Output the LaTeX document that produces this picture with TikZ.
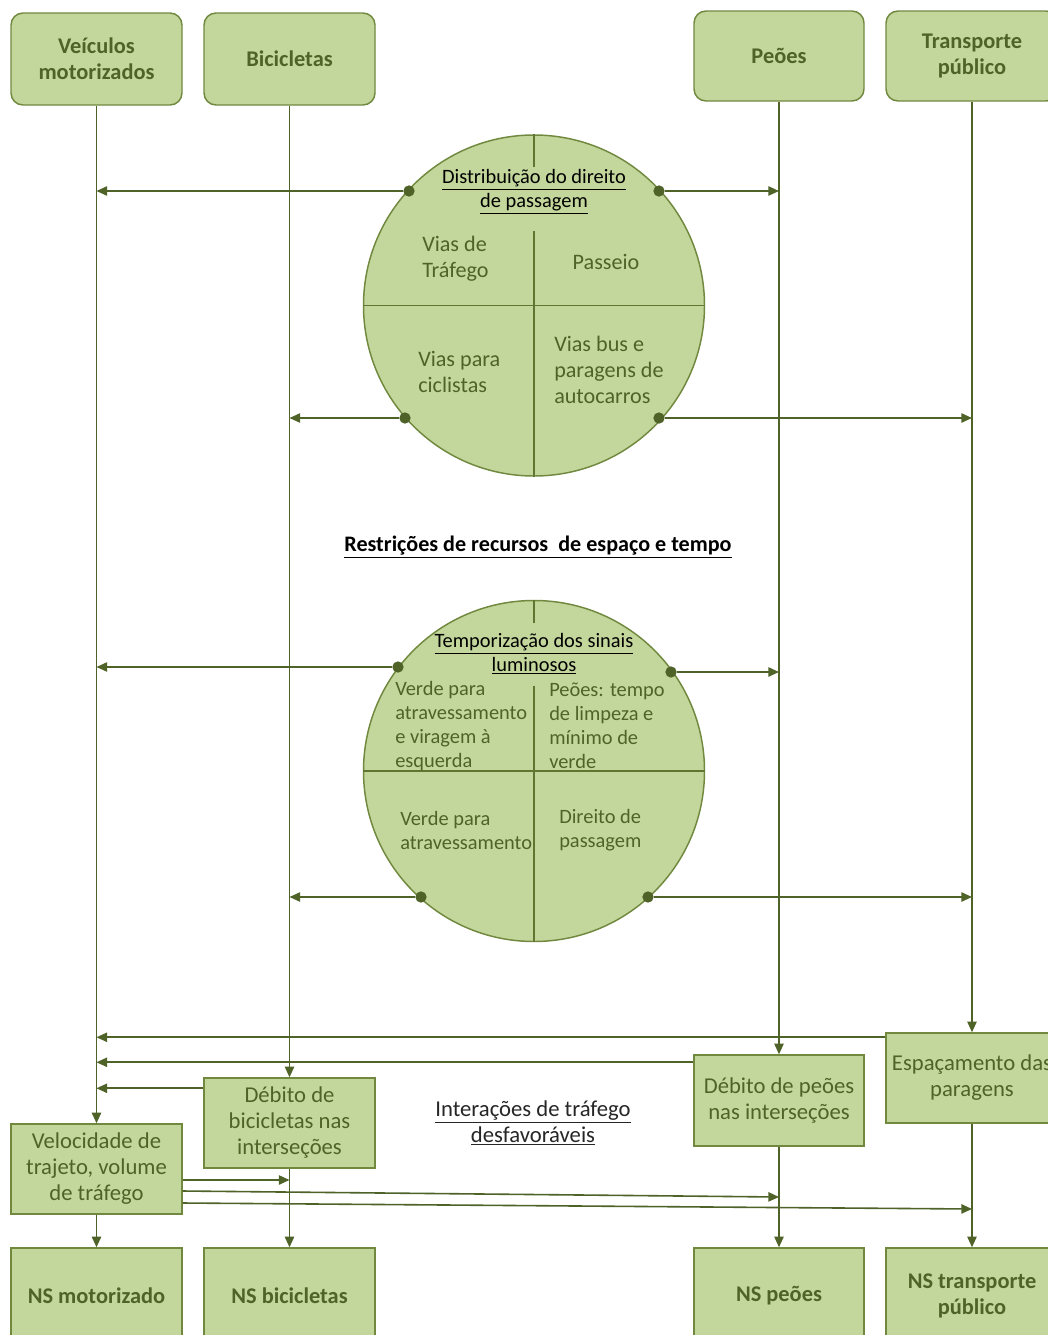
\documentclass[tikz,border=0pt]{standalone}
\usepackage{fontspec}
\setmainfont{Carlito}
\usetikzlibrary{arrows.meta,calc}
\definecolor{boxfill}{HTML}{C3D69B}
\definecolor{boxdraw}{HTML}{71893F}
\definecolor{linec}{HTML}{4F6228}
\definecolor{txtc}{HTML}{4F6228}
\definecolor{qlc}{HTML}{5F7530}
\begin{document}
\begin{tikzpicture}[x=0.75pt,y=-0.75pt,
  sz/.style 2 args={minimum width=#1*0.75pt, minimum height=#2*0.75pt},
  box/.style={draw=boxdraw, fill=boxfill, line width=1.1pt, text=txtc, align=center, inner sep=0pt, font=\fontsize{17}{19.5}\selectfont},
  topbox/.style={box, rounded corners=9pt, font=\bfseries\fontsize{16.8}{19.5}\selectfont},
  nsbox/.style={box, font=\bfseries\fontsize{16.8}{19.5}\selectfont},
  vline/.style={draw=linec, line width=1.2pt},
  arr/.style={vline, -{Triangle[length=8pt,width=7pt]}},
  dot/.style={circle, fill=linec, inner sep=0pt, minimum size=8.5pt},
  circ/.style={draw=boxdraw, fill=boxfill, line width=1.1pt, circle, minimum size=255.75pt, inner sep=0pt},
  qline/.style={draw=qlc, line width=1.1pt},
  qtxt/.style={text=txtc, align=left, inner sep=0pt, anchor=west},
  ttl/.style={text=black, align=center, inner sep=0pt, font=\fontsize{15.3}{18}\selectfont}
]
\clip (0,0) rectangle (1048,1335);
\fill[white] (0,0) rectangle (1048,1335);

% top boxes
\node[topbox, sz={171}{92}] (veh) at (96.5,59) {Veículos\\motorizados};
\node[topbox, sz={171}{92}] (bic) at (289.5,59) {Bicicletas};
\node[topbox, sz={170}{90}] (peo) at (779,56) {Peões};
\node[topbox, sz={172}{90}] (tp) at (972,56) {Transporte\\público};

% lower boxes
\node[box, sz={171}{90}] (dbic) at (289.5,1123) {Débito de\\bicicletas nas\\interseções};
\node[box, sz={171}{90}] (vel) at (96.5,1169) {Velocidade de\\trajeto, volume\\de tráfego};
\node[box, sz={170}{91}] (dpeo) at (779,1100.5) {Débito de peões\\nas interseções};
\node[box, sz={172}{90}] (esp) at (972,1078) {Espaçamento das\\paragens};

% bottom boxes
\node[nsbox, sz={171}{96}] (nsm) at (96.5,1296) {NS motorizado};
\node[nsbox, sz={171}{96}] (nsb) at (289.5,1296) {NS bicicletas};
\node[nsbox, sz={170}{96}] (nsp) at (779,1296) {NS peões};
\node[nsbox, sz={172}{96}] (nstp) at (972,1296) {NS transporte\\público};

% vertical flows
\draw[arr] (veh.south) -- (vel.north);
\draw[arr] (bic.south) -- (dbic.north);
\draw[arr] (peo.south) -- (dpeo.north);
\draw[arr] (tp.south) -- (esp.north);
\draw[arr] (vel.south) -- (nsm.north);
\draw[arr] (dbic.south) -- (nsb.north);
\draw[arr] (dpeo.south) -- (nsp.north);
\draw[arr] (esp.south) -- (nstp.north);

% circle 1
\node[circ] (c1) at (534,305.5) {};
\draw[qline] (c1.west) -- (c1.east);
\draw[qline] (c1.north) -- ++(0,33);
\draw[qline] (c1.south) -- ++(0,-246);
\node[ttl] (t1) at (534,192) {\underline{Distribuição do direito}\\\underline{de passagem}};
\node[qtxt, font=\fontsize{16.6}{19.5}\selectfont] (q11) at (422,259) {Vias de\\Tráfego};
\node[text=txtc, inner sep=0pt, font=\fontsize{16.6}{19.5}\selectfont] (q12) at (606,262) {Passeio};
\node[qtxt, font=\fontsize{16.6}{19.5}\selectfont] (q13) at (418,372) {Vias para\\ciclistas};
\node[qtxt, font=\fontsize{16.6}{19.5}\selectfont] (q14) at (554,370) {Vias bus e\\paragens de\\autocarros};
\node[dot] (d11) at (409,191) {};
\node[dot] (d12) at (659,191) {};
\node[dot] (d13) at (405,418) {};
\node[dot] (d14) at (659,418) {};
\draw[arr] (d11) -- (d11 -| veh.south);
\draw[arr] (d12) -- (d12 -| peo.south);
\draw[arr] (d13) -- (d13 -| bic.south);
\draw[arr] (d14) -- (d14 -| tp.south);

% middle title
\node[inner sep=0pt, font=\bfseries\fontsize{16.6}{19.5}\selectfont] (mid) at (538,547) {\underline{Restrições de recursos\ \ de espaço e tempo}};

% circle 2
\node[circ] (c2) at (534,771) {};
\draw[qline] (c2.west) -- (c2.east);
\draw[qline] (c2.north) -- ++(0,23);
\draw[qline] (c2.south) -- ++(0,-256);
\node[ttl] (t2) at (534,654) {\underline{Temporização dos sinais}\\\underline{luminosos}};
\node[qtxt, font=\fontsize{15.3}{18}\selectfont] (q21) at (395,726) {Verde para\\atravessamento\\e viragem à\\esquerda};
\node[qtxt, font=\fontsize{15.3}{18}\selectfont] (q22) at (549,726) {Peões: tempo\\de limpeza e\\mínimo de\\verde};
\node[qtxt, font=\fontsize{15.3}{18}\selectfont] (q23) at (400,830) {Verde para\\atravessamento};
\node[qtxt, font=\fontsize{15.3}{18}\selectfont] (q24) at (559,830) {Direito de\\passagem};
\node[dot] (d21) at (398,667) {};
\node[dot] (d22) at (671,672) {};
\node[dot] (d23) at (421,897) {};
\node[dot] (d24) at (648,897) {};
\draw[arr] (d21) -- (d21 -| veh.south);
\draw[arr] (d22) -- (d22 -| peo.south);
\draw[arr] (d23) -- (d23 -| bic.south);
\draw[arr] (d24) -- (d24 -| tp.south);

% interactions
\path (esp.north west) ++(0,5) coordinate (e1);
\draw[arr] (e1) -- (e1 -| veh.south);
\path (dpeo.north west) ++(0,8) coordinate (e2);
\draw[arr] (e2) -- (e2 -| veh.south);
\path (dbic.north west) ++(0,11) coordinate (e3);
\draw[arr] (e3) -- (e3 -| veh.south);

\node[inner sep=0pt, align=center, text=black!85, font=\fontsize{17}{19.5}\selectfont] (int) at (533,1123) {\underline{Interações de tráfego}\\\underline{desfavoráveis}};

\path (vel.east) ++(0,11) coordinate (v1);
\path (vel.east) ++(0,22) coordinate (v2);
\path (vel.east) ++(0,34) coordinate (v3);
\coordinate (w2) at (779,1197);
\coordinate (w3) at (972,1209);
\draw[arr] (v1) -- (v1 -| dbic.south);
\draw[arr] (v2) -- (w2);
\draw[arr] (v3) -- (w3);
\end{tikzpicture}
\end{document}
